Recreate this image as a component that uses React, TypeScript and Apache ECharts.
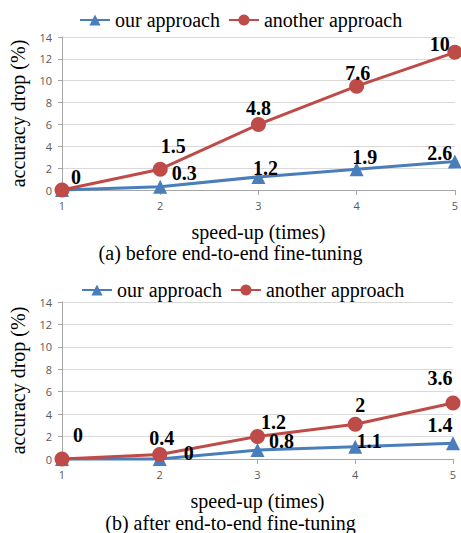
import React, { useEffect, useRef } from "react";
import * as echarts from "echarts";

const categories = ["1", "2", "3", "4", "5"];

// panel (a): before end-to-end fine-tuning
const oursA = [0, 0.3, 1.2, 1.9, 2.6];
const anotherA = [0, 1.9, 6.0, 9.5, 12.6];
const oursALabels = ["", "0.3", "1.2", "1.9", "2.6"];
const anotherALabels = ["0", "1.5", "4.8", "7.6", "10"];

// panel (b): after end-to-end fine-tuning
const oursB = [0, 0, 0.8, 1.1, 1.4];
const anotherB = [0, 0.4, 2.0, 3.1, 5.0];
const oursBLabels = ["", "0", "0.8", "1.1", "1.4"];
const anotherBLabels = ["0", "0.4", "1.2", "2", "3.6"];

const seriesNames = ["our approach", "another approach"];
const captions = ["(a) before end-to-end fine-tuning", "(b) after end-to-end fine-tuning"];
const xName = "speed-up (times)";
const yName = "accuracy drop (%)";

// label offsets (style)
const offOursA = [[0, 0], [24, 8], [7, 13], [8, 10], [-15, 13]];
const offAnotherA = [[14, 9], [13, -1], [0, 6], [1, 9], [-15, 14]];
const offOursB = [[0, 0], [29, 16], [24, 13], [14, 16], [-13, 4]];
const offAnotherB = [[16, -2], [2, 6], [16, 8], [5, 3], [-13, -2]];

const SERIF = "Liberation Serif";
const SANS = "Open Sans";
const BLUE = "#4a7ebb";
const RED = "#be4b48";

function mkSeries(
  name: string,
  values: number[],
  labels: string[],
  offsets: number[][],
  idx: number,
  color: string,
  symbol: string,
  size: number
) {
  return {
    type: "line",
    name,
    xAxisIndex: idx,
    yAxisIndex: idx,
    symbol,
    symbolSize: size,
    clip: false,
    itemStyle: { color },
    lineStyle: { color, width: 3 },
    data: values.map((v, i) => ({
      value: v,
      label: {
        show: labels[i] !== "",
        formatter: labels[i],
        offset: offsets[i],
      },
    })),
    label: {
      position: "top",
      fontFamily: SERIF,
      fontSize: 20,
      fontWeight: "bold",
      color: "#000",
    },
  };
}

function axes(idx: number) {
  const x = {
    type: "category",
    gridIndex: idx,
    data: categories,
    boundaryGap: false,
    axisLine: { lineStyle: { color: "#a6a6a6" } },
    axisTick: { show: true, length: 5, lineStyle: { color: "#a6a6a6" } },
    axisLabel: { fontFamily: SANS, fontSize: 11, color: "#595959", margin: 10 },
    name: xName,
    nameLocation: "middle",
    nameGap: 32,
    nameTextStyle: {
      fontFamily: SERIF,
      fontSize: 20,
      lineHeight: 20,
      fontWeight: "normal",
      color: "#000",
    },
  };
  const y = {
    type: "value",
    gridIndex: idx,
    min: 0,
    max: 14,
    interval: 2,
    axisLine: { show: true, lineStyle: { color: "#a6a6a6" } },
    axisTick: { show: true, length: 4, lineStyle: { color: "#a6a6a6" } },
    axisLabel: { fontFamily: SANS, fontSize: 11, color: "#595959", margin: 10 },
    splitLine: { lineStyle: { color: "#d9d9d9" } },
    name: yName,
    nameLocation: "middle",
    nameGap: 34,
    nameTextStyle: { fontFamily: SERIF, fontSize: 20, fontWeight: "normal", color: "#000" },
  };
  return { x, y };
}

export default function App() {
  const ref = useRef<HTMLDivElement>(null);
  useEffect(() => {
    if (!ref.current) return;
    const chart = echarts.init(ref.current, undefined, { renderer: "svg" });
    const a0 = axes(0);
    const a1 = axes(1);
    const legendBase = {
      itemWidth: 30,
      itemHeight: 14,
      itemGap: 8,
      textStyle: { fontFamily: SERIF, fontSize: 20, fontWeight: "normal", color: "#000" },
      data: seriesNames,
    };
    chart.setOption({
      animation: false,
      backgroundColor: "#fff",
      textStyle: { fontFamily: SERIF },
      legend: [
        { ...legendBase, left: 74, top: 5 },
        { ...legendBase, left: 76, top: 275 },
      ],
      grid: [
        { left: 59, right: 6, top: 37, height: 153 },
        { left: 58, right: 8, top: 302, height: 157 },
      ],
      xAxis: [a0.x, a1.x],
      yAxis: [a0.y, a1.y],
      series: [
        mkSeries(seriesNames[0], oursA, oursALabels, offOursA, 0, BLUE, "triangle", 14),
        mkSeries(seriesNames[1], anotherA, anotherALabels, offAnotherA, 0, RED, "circle", 15),
        mkSeries(seriesNames[0], oursB, oursBLabels, offOursB, 1, BLUE, "triangle", 14),
        mkSeries(seriesNames[1], anotherB, anotherBLabels, offAnotherB, 1, RED, "circle", 15),
      ],
      graphic: [
        {
          type: "text",
          left: "center",
          top: 243,
          style: {
            text: captions[0],
            fontFamily: SERIF,
            fontSize: 20,
            lineHeight: 20,
            fill: "#000",
          },
        },
        {
          type: "text",
          left: "center",
          top: 513,
          style: {
            text: captions[1],
            fontFamily: SERIF,
            fontSize: 20,
            lineHeight: 20,
            fill: "#000",
          },
        },
      ],
    });
    return () => chart.dispose();
  }, []);
  return (
    <div
      ref={ref}
      style={{ position: "absolute", left: 0, top: 0, width: 461, height: 533 }}
    />
  );
}
